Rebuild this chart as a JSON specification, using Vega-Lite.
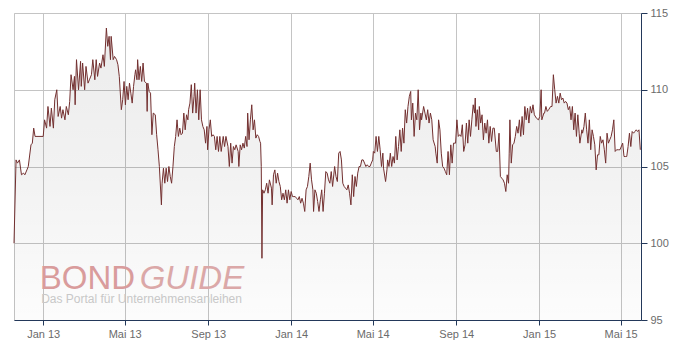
{
  "$schema": "https://vega.github.io/schema/vega-lite/v6.json",
  "width": 627,
  "height": 307,
  "autosize": {"type": "none"},
  "padding": {"left": 14, "top": 13, "right": 44, "bottom": 30},
  "background": "#ffffff",
  "config": {
    "view": {"stroke": "#c4c4c4", "strokeWidth": 1},
    "axis": {
      "title": null,
      "grid": true,
      "gridColor": "#c4c4c4",
      "gridWidth": 1,
      "domainColor": "#23385a",
      "domainWidth": 1,
      "tickColor": "#23385a",
      "labelFont": "Liberation Sans",
      "labelFontSize": 11,
      "labelColor": "#6b6b6b",
      "labelOverlap": false,
      "labelFlush": false
    }
  },
  "data": {"name": "series", "format": {"parse": {"d": "date:'%Y-%m-%d'"}}},
  "layer": [
    {
      "mark": {
        "type": "area",
        "clip": true,
        "fill": {"gradient": "linear", "x1": 0, "y1": 0, "x2": 0, "y2": 1,
          "stops": [{"offset": 0, "color": "rgba(0,0,0,0.075)"}, {"offset": 0.5, "color": "rgba(0,0,0,0.05)"}, {"offset": 1, "color": "rgba(0,0,0,0.012)"}]},
        "strokeWidth": 0
      },
      "encoding": {
        "x": {"field": "d", "type": "temporal",
          "scale": {"domain": [{"year": 2012, "month": 11, "date": 19}, {"year": 2015, "month": 5, "date": 31}]}},
        "y": {"field": "v", "type": "quantitative", "scale": {"domain": [95, 115], "zero": false, "nice": false}},
        "y2": {"datum": 95}
      }
    },
    {
      "data": {"values": [{"label": "BOND"}]},
      "mark": {"type": "text", "align": "left", "baseline": "alphabetic", "font": "Liberation Sans", "fontSize": 33, "color": "#d99c9c"},
      "encoding": {
        "x": {"datum": {"year": 2012, "month": 12, "date": 27}, "type": "temporal"},
        "y": {"datum": 97.0, "type": "quantitative"},
        "text": {"field": "label"}
      }
    },
    {
      "data": {"values": [{"label": "GUIDE"}]},
      "mark": {"type": "text", "align": "left", "baseline": "alphabetic", "font": "Liberation Sans", "fontStyle": "italic", "fontSize": 33, "color": "#dba8a8"},
      "encoding": {
        "x": {"datum": {"year": 2013, "month": 5, "date": 23}, "type": "temporal"},
        "y": {"datum": 97.0, "type": "quantitative"},
        "text": {"field": "label"}
      }
    },
    {
      "data": {"values": [{"label": "Das Portal für Unternehmensanleihen"}]},
      "mark": {"type": "text", "align": "left", "baseline": "alphabetic", "font": "Liberation Sans", "fontSize": 12, "color": "#c8c8c8"},
      "encoding": {
        "x": {"datum": {"year": 2012, "month": 12, "date": 29}, "type": "temporal"},
        "y": {"datum": 96.12, "type": "quantitative"},
        "text": {"field": "label"}
      }
    },
    {
      "mark": {"type": "line", "color": "#733030", "strokeWidth": 1},
      "encoding": {
        "x": {"field": "d", "type": "temporal",
          "scale": {"domain": [{"year": 2012, "month": 11, "date": 19}, {"year": 2015, "month": 5, "date": 31}]},
          "axis": {
            "orient": "bottom",
            "values": [
              {"year": 2013, "month": 1, "date": 1}, {"year": 2013, "month": 5, "date": 1}, {"year": 2013, "month": 9, "date": 1},
              {"year": 2014, "month": 1, "date": 1}, {"year": 2014, "month": 5, "date": 1}, {"year": 2014, "month": 9, "date": 1},
              {"year": 2015, "month": 1, "date": 1}, {"year": 2015, "month": 5, "date": 1}
            ],
            "labelExpr": "replace(timeFormat(datum.value, '%b %y'), 'May', 'Mai')",
            "tickSize": 5,
            "labelPadding": 3
          }
        },
        "y": {"field": "v", "type": "quantitative",
          "scale": {"domain": [95, 115], "zero": false, "nice": false},
          "axis": {"orient": "right", "values": [95, 100, 105, 110, 115], "tickSize": 6, "labelPadding": 3}
        }
      }
    }
  ],
  "datasets": {
    "series": [
      {"d":"2012-11-19","v":100.0},{"d":"2012-11-22","v":105.43},{"d":"2012-11-24","v":105.22},{"d":"2012-11-27","v":105.43},
      {"d":"2012-11-30","v":104.46},{"d":"2012-12-03","v":104.57},{"d":"2012-12-05","v":104.46},{"d":"2012-12-08","v":104.78},
      {"d":"2012-12-10","v":105.0},{"d":"2012-12-14","v":106.41},{"d":"2012-12-16","v":106.52},{"d":"2012-12-18","v":107.5},
      {"d":"2012-12-20","v":106.96},{"d":"2013-01-01","v":106.96},{"d":"2013-01-03","v":108.04},{"d":"2013-01-06","v":107.5},
      {"d":"2013-01-08","v":108.91},{"d":"2013-01-11","v":107.61},{"d":"2013-01-13","v":108.8},{"d":"2013-01-16","v":107.5},
      {"d":"2013-01-18","v":109.35},{"d":"2013-01-21","v":110.0},{"d":"2013-01-23","v":108.26},{"d":"2013-01-26","v":108.91},
      {"d":"2013-01-28","v":108.15},{"d":"2013-01-30","v":108.7},{"d":"2013-02-02","v":108.04},{"d":"2013-02-04","v":108.91},
      {"d":"2013-02-07","v":108.37},{"d":"2013-02-09","v":109.24},{"d":"2013-02-11","v":110.98},{"d":"2013-02-14","v":110.0},
      {"d":"2013-02-16","v":110.87},{"d":"2013-02-17","v":109.02},{"d":"2013-02-19","v":111.96},{"d":"2013-02-22","v":110.0},
      {"d":"2013-02-25","v":111.85},{"d":"2013-02-26","v":110.22},{"d":"2013-02-28","v":111.74},{"d":"2013-03-03","v":110.0},
      {"d":"2013-03-05","v":111.52},{"d":"2013-03-08","v":110.43},{"d":"2013-03-10","v":110.65},{"d":"2013-03-13","v":110.98},
      {"d":"2013-03-15","v":111.96},{"d":"2013-03-18","v":110.65},{"d":"2013-03-20","v":111.96},{"d":"2013-03-22","v":110.87},
      {"d":"2013-03-25","v":111.74},{"d":"2013-03-27","v":111.41},{"d":"2013-03-30","v":112.28},{"d":"2013-04-01","v":111.52},
      {"d":"2013-04-04","v":114.02},{"d":"2013-04-06","v":112.83},{"d":"2013-04-08","v":113.48},{"d":"2013-04-10","v":111.96},
      {"d":"2013-04-11","v":113.48},{"d":"2013-04-14","v":111.96},{"d":"2013-04-16","v":112.17},{"d":"2013-04-19","v":111.96},
      {"d":"2013-04-21","v":111.63},{"d":"2013-04-23","v":110.87},{"d":"2013-04-26","v":108.7},{"d":"2013-04-28","v":109.35},
      {"d":"2013-04-30","v":110.54},{"d":"2013-05-02","v":109.02},{"d":"2013-05-04","v":110.22},{"d":"2013-05-06","v":109.35},
      {"d":"2013-05-08","v":110.43},{"d":"2013-05-10","v":109.78},{"d":"2013-05-12","v":109.13},{"d":"2013-05-14","v":110.22},
      {"d":"2013-05-16","v":110.98},{"d":"2013-05-17","v":111.3},{"d":"2013-05-19","v":110.65},{"d":"2013-05-20","v":111.96},
      {"d":"2013-05-22","v":110.65},{"d":"2013-05-24","v":111.52},{"d":"2013-05-26","v":110.54},{"d":"2013-05-28","v":111.74},
      {"d":"2013-05-30","v":110.54},{"d":"2013-06-02","v":110.43},{"d":"2013-06-03","v":108.59},{"d":"2013-06-04","v":110.43},
      {"d":"2013-06-06","v":109.89},{"d":"2013-06-08","v":109.78},{"d":"2013-06-10","v":107.07},{"d":"2013-06-12","v":108.48},
      {"d":"2013-06-15","v":108.37},{"d":"2013-06-17","v":107.07},{"d":"2013-06-19","v":106.09},{"d":"2013-06-21","v":105.0},
      {"d":"2013-06-24","v":102.5},{"d":"2013-06-25","v":103.91},{"d":"2013-06-27","v":104.89},{"d":"2013-06-29","v":103.91},
      {"d":"2013-07-01","v":104.89},{"d":"2013-07-03","v":104.02},{"d":"2013-07-05","v":105.0},{"d":"2013-07-07","v":104.35},
      {"d":"2013-07-09","v":103.91},{"d":"2013-07-11","v":105.0},{"d":"2013-07-13","v":106.3},{"d":"2013-07-15","v":106.96},
      {"d":"2013-07-17","v":108.04},{"d":"2013-07-19","v":106.96},{"d":"2013-07-21","v":107.5},{"d":"2013-07-23","v":107.07},
      {"d":"2013-07-25","v":107.17},{"d":"2013-07-27","v":108.48},{"d":"2013-07-29","v":107.39},{"d":"2013-07-31","v":108.37},
      {"d":"2013-08-02","v":108.04},{"d":"2013-08-03","v":108.7},{"d":"2013-08-05","v":109.13},{"d":"2013-08-07","v":110.33},
      {"d":"2013-08-09","v":108.48},{"d":"2013-08-11","v":109.57},{"d":"2013-08-12","v":110.43},{"d":"2013-08-14","v":108.48},
      {"d":"2013-08-16","v":110.0},{"d":"2013-08-18","v":108.04},{"d":"2013-08-20","v":110.0},{"d":"2013-08-22","v":108.04},
      {"d":"2013-08-24","v":107.61},{"d":"2013-08-26","v":107.39},{"d":"2013-08-28","v":106.52},{"d":"2013-08-30","v":107.61},
      {"d":"2013-08-31","v":106.09},{"d":"2013-09-02","v":107.39},{"d":"2013-09-04","v":108.04},{"d":"2013-09-06","v":106.96},
      {"d":"2013-09-08","v":107.07},{"d":"2013-09-10","v":106.96},{"d":"2013-09-12","v":106.09},{"d":"2013-09-14","v":106.96},
      {"d":"2013-09-16","v":105.98},{"d":"2013-09-18","v":106.96},{"d":"2013-09-20","v":105.98},{"d":"2013-09-23","v":106.96},
      {"d":"2013-09-25","v":106.3},{"d":"2013-09-27","v":106.96},{"d":"2013-09-30","v":106.3},{"d":"2013-10-02","v":105.0},
      {"d":"2013-10-04","v":106.52},{"d":"2013-10-06","v":105.22},{"d":"2013-10-08","v":106.3},{"d":"2013-10-10","v":106.09},
      {"d":"2013-10-12","v":106.41},{"d":"2013-10-15","v":105.98},{"d":"2013-10-16","v":105.0},{"d":"2013-10-18","v":106.41},
      {"d":"2013-10-20","v":106.09},{"d":"2013-10-22","v":106.52},{"d":"2013-10-24","v":106.2},{"d":"2013-10-26","v":106.96},
      {"d":"2013-10-28","v":106.3},{"d":"2013-10-29","v":108.48},{"d":"2013-10-31","v":106.74},{"d":"2013-11-02","v":108.04},
      {"d":"2013-11-04","v":109.02},{"d":"2013-11-06","v":107.39},{"d":"2013-11-08","v":108.04},{"d":"2013-11-10","v":106.85},
      {"d":"2013-11-12","v":107.07},{"d":"2013-11-14","v":106.96},{"d":"2013-11-16","v":106.63},{"d":"2013-11-17","v":106.52},
      {"d":"2013-11-18","v":105.0},{"d":"2013-11-19","v":99.02},{"d":"2013-11-20","v":103.48},{"d":"2013-11-22","v":103.26},
      {"d":"2013-11-24","v":103.48},{"d":"2013-11-26","v":103.91},{"d":"2013-11-28","v":103.26},{"d":"2013-11-30","v":104.13},
      {"d":"2013-12-03","v":103.59},{"d":"2013-12-04","v":102.5},{"d":"2013-12-06","v":104.46},{"d":"2013-12-08","v":104.78},
      {"d":"2013-12-10","v":103.91},{"d":"2013-12-12","v":104.57},{"d":"2013-12-14","v":104.02},{"d":"2013-12-16","v":103.7},
      {"d":"2013-12-18","v":102.83},{"d":"2013-12-20","v":103.26},{"d":"2013-12-22","v":102.83},{"d":"2013-12-24","v":103.48},
      {"d":"2013-12-26","v":102.61},{"d":"2013-12-28","v":103.48},{"d":"2013-12-30","v":102.83},{"d":"2014-01-01","v":103.37},
      {"d":"2014-01-03","v":103.04},{"d":"2014-01-05","v":103.04},{"d":"2014-01-07","v":103.04},{"d":"2014-01-09","v":102.93},
      {"d":"2014-01-11","v":102.83},{"d":"2014-01-13","v":103.04},{"d":"2014-01-15","v":102.61},{"d":"2014-01-17","v":102.93},
      {"d":"2014-01-19","v":102.61},{"d":"2014-01-21","v":102.07},{"d":"2014-01-23","v":103.48},{"d":"2014-01-25","v":103.7},
      {"d":"2014-01-27","v":104.35},{"d":"2014-01-29","v":105.22},{"d":"2014-01-31","v":104.13},{"d":"2014-02-02","v":103.48},
      {"d":"2014-02-03","v":102.07},{"d":"2014-02-05","v":103.48},{"d":"2014-02-07","v":103.26},{"d":"2014-02-09","v":102.72},
      {"d":"2014-02-11","v":102.07},{"d":"2014-02-13","v":102.83},{"d":"2014-02-15","v":103.48},{"d":"2014-02-17","v":102.07},
      {"d":"2014-02-19","v":103.26},{"d":"2014-02-21","v":104.67},{"d":"2014-02-23","v":104.57},{"d":"2014-02-25","v":104.13},
      {"d":"2014-02-27","v":103.91},{"d":"2014-03-01","v":104.67},{"d":"2014-03-03","v":103.7},{"d":"2014-03-06","v":105.0},
      {"d":"2014-03-08","v":104.35},{"d":"2014-03-10","v":104.02},{"d":"2014-03-12","v":105.87},{"d":"2014-03-14","v":105.98},
      {"d":"2014-03-16","v":105.43},{"d":"2014-03-18","v":103.91},{"d":"2014-03-20","v":103.7},{"d":"2014-03-22","v":103.59},
      {"d":"2014-03-24","v":103.48},{"d":"2014-03-26","v":103.8},{"d":"2014-03-28","v":103.26},{"d":"2014-03-30","v":102.5},
      {"d":"2014-04-01","v":104.46},{"d":"2014-04-03","v":103.04},{"d":"2014-04-05","v":104.35},{"d":"2014-04-07","v":103.7},
      {"d":"2014-04-09","v":104.57},{"d":"2014-04-11","v":105.0},{"d":"2014-04-13","v":105.0},{"d":"2014-04-15","v":105.43},
      {"d":"2014-04-17","v":105.43},{"d":"2014-04-19","v":105.22},{"d":"2014-04-21","v":105.0},{"d":"2014-04-23","v":105.11},
      {"d":"2014-04-25","v":105.0},{"d":"2014-04-27","v":105.0},{"d":"2014-04-29","v":105.22},{"d":"2014-05-01","v":105.43},
      {"d":"2014-05-02","v":105.98},{"d":"2014-05-04","v":105.87},{"d":"2014-05-06","v":106.96},{"d":"2014-05-08","v":105.98},
      {"d":"2014-05-10","v":106.96},{"d":"2014-05-12","v":106.09},{"d":"2014-05-14","v":105.0},{"d":"2014-05-16","v":105.87},
      {"d":"2014-05-17","v":104.89},{"d":"2014-05-20","v":104.02},{"d":"2014-05-22","v":104.78},{"d":"2014-05-23","v":105.43},
      {"d":"2014-05-25","v":105.0},{"d":"2014-05-27","v":105.87},{"d":"2014-05-29","v":105.0},{"d":"2014-05-31","v":105.65},
      {"d":"2014-06-02","v":105.22},{"d":"2014-06-04","v":106.96},{"d":"2014-06-06","v":105.43},{"d":"2014-06-08","v":106.3},
      {"d":"2014-06-10","v":107.39},{"d":"2014-06-12","v":105.98},{"d":"2014-06-14","v":107.5},{"d":"2014-06-16","v":106.52},
      {"d":"2014-06-18","v":108.7},{"d":"2014-06-20","v":107.83},{"d":"2014-06-22","v":108.91},{"d":"2014-06-24","v":109.57},
      {"d":"2014-06-26","v":109.89},{"d":"2014-06-27","v":108.04},{"d":"2014-06-29","v":109.13},{"d":"2014-07-01","v":106.96},
      {"d":"2014-07-03","v":108.48},{"d":"2014-07-05","v":108.04},{"d":"2014-07-07","v":110.0},{"d":"2014-07-09","v":107.39},
      {"d":"2014-07-11","v":108.48},{"d":"2014-07-12","v":108.04},{"d":"2014-07-15","v":108.91},{"d":"2014-07-17","v":108.48},
      {"d":"2014-07-19","v":108.04},{"d":"2014-07-21","v":108.7},{"d":"2014-07-23","v":107.83},{"d":"2014-07-25","v":108.48},
      {"d":"2014-07-27","v":108.04},{"d":"2014-07-29","v":106.74},{"d":"2014-08-01","v":106.3},{"d":"2014-08-02","v":105.87},
      {"d":"2014-08-04","v":105.22},{"d":"2014-08-06","v":108.04},{"d":"2014-08-08","v":107.39},{"d":"2014-08-10","v":105.87},
      {"d":"2014-08-12","v":105.0},{"d":"2014-08-14","v":104.89},{"d":"2014-08-16","v":104.67},{"d":"2014-08-18","v":104.46},
      {"d":"2014-08-20","v":105.98},{"d":"2014-08-22","v":104.46},{"d":"2014-08-24","v":106.41},{"d":"2014-08-26","v":105.22},
      {"d":"2014-08-28","v":106.52},{"d":"2014-08-31","v":106.52},{"d":"2014-09-02","v":108.04},{"d":"2014-09-04","v":106.96},
      {"d":"2014-09-06","v":107.07},{"d":"2014-09-08","v":106.96},{"d":"2014-09-10","v":107.72},{"d":"2014-09-12","v":105.98},
      {"d":"2014-09-14","v":106.41},{"d":"2014-09-16","v":107.83},{"d":"2014-09-18","v":106.52},{"d":"2014-09-20","v":108.04},
      {"d":"2014-09-22","v":106.96},{"d":"2014-09-24","v":108.04},{"d":"2014-09-26","v":109.02},{"d":"2014-09-28","v":108.48},
      {"d":"2014-09-29","v":109.46},{"d":"2014-09-30","v":107.61},{"d":"2014-10-02","v":108.7},{"d":"2014-10-04","v":107.39},
      {"d":"2014-10-05","v":108.91},{"d":"2014-10-07","v":107.83},{"d":"2014-10-09","v":108.37},{"d":"2014-10-11","v":106.74},
      {"d":"2014-10-13","v":107.83},{"d":"2014-10-15","v":107.17},{"d":"2014-10-17","v":108.04},{"d":"2014-10-19","v":106.52},
      {"d":"2014-10-21","v":107.61},{"d":"2014-10-23","v":106.63},{"d":"2014-10-25","v":107.5},{"d":"2014-10-27","v":107.5},
      {"d":"2014-10-30","v":105.98},{"d":"2014-11-01","v":105.98},{"d":"2014-11-03","v":107.17},{"d":"2014-11-05","v":104.35},
      {"d":"2014-11-07","v":104.24},{"d":"2014-11-09","v":104.13},{"d":"2014-11-11","v":103.91},{"d":"2014-11-13","v":103.37},
      {"d":"2014-11-15","v":104.46},{"d":"2014-11-17","v":103.91},{"d":"2014-11-18","v":105.87},{"d":"2014-11-19","v":108.04},
      {"d":"2014-11-21","v":105.22},{"d":"2014-11-23","v":106.41},{"d":"2014-11-25","v":106.52},{"d":"2014-11-27","v":106.96},
      {"d":"2014-11-29","v":107.61},{"d":"2014-12-01","v":107.17},{"d":"2014-12-03","v":108.04},{"d":"2014-12-05","v":106.96},
      {"d":"2014-12-07","v":108.26},{"d":"2014-12-09","v":107.07},{"d":"2014-12-11","v":108.91},{"d":"2014-12-13","v":108.04},
      {"d":"2014-12-15","v":108.8},{"d":"2014-12-17","v":107.83},{"d":"2014-12-19","v":108.91},{"d":"2014-12-21","v":108.48},
      {"d":"2014-12-23","v":109.02},{"d":"2014-12-25","v":108.37},{"d":"2014-12-28","v":108.15},{"d":"2014-12-31","v":108.04},
      {"d":"2015-01-02","v":108.26},{"d":"2015-01-04","v":110.0},{"d":"2015-01-05","v":108.04},{"d":"2015-01-08","v":108.48},
      {"d":"2015-01-09","v":108.48},{"d":"2015-01-11","v":108.91},{"d":"2015-01-13","v":108.59},{"d":"2015-01-15","v":108.7},
      {"d":"2015-01-18","v":108.91},{"d":"2015-01-20","v":108.91},{"d":"2015-01-22","v":110.98},{"d":"2015-01-24","v":110.0},
      {"d":"2015-01-26","v":109.13},{"d":"2015-01-28","v":109.57},{"d":"2015-01-30","v":109.13},{"d":"2015-02-01","v":109.78},
      {"d":"2015-02-03","v":109.35},{"d":"2015-02-05","v":109.46},{"d":"2015-02-07","v":109.13},{"d":"2015-02-09","v":109.24},
      {"d":"2015-02-11","v":109.13},{"d":"2015-02-13","v":108.7},{"d":"2015-02-15","v":108.91},{"d":"2015-02-17","v":108.04},
      {"d":"2015-02-19","v":108.91},{"d":"2015-02-21","v":107.39},{"d":"2015-02-23","v":108.48},{"d":"2015-02-25","v":106.96},
      {"d":"2015-02-27","v":108.37},{"d":"2015-03-01","v":107.17},{"d":"2015-03-02","v":106.52},{"d":"2015-03-05","v":107.39},
      {"d":"2015-03-06","v":107.17},{"d":"2015-03-08","v":107.61},{"d":"2015-03-10","v":108.48},{"d":"2015-03-12","v":107.39},
      {"d":"2015-03-14","v":106.52},{"d":"2015-03-16","v":108.04},{"d":"2015-03-18","v":106.09},{"d":"2015-03-20","v":107.39},
      {"d":"2015-03-22","v":106.96},{"d":"2015-03-24","v":106.41},{"d":"2015-03-26","v":104.78},{"d":"2015-03-28","v":105.76},
      {"d":"2015-03-30","v":105.76},{"d":"2015-04-01","v":106.96},{"d":"2015-04-03","v":106.52},{"d":"2015-04-05","v":106.74},
      {"d":"2015-04-07","v":106.09},{"d":"2015-04-09","v":105.22},{"d":"2015-04-11","v":107.17},{"d":"2015-04-13","v":106.52},
      {"d":"2015-04-15","v":106.74},{"d":"2015-04-17","v":106.96},{"d":"2015-04-19","v":107.39},{"d":"2015-04-21","v":108.04},
      {"d":"2015-04-23","v":105.98},{"d":"2015-04-25","v":106.09},{"d":"2015-04-28","v":106.09},{"d":"2015-04-30","v":106.09},
      {"d":"2015-05-03","v":106.41},{"d":"2015-05-04","v":106.52},{"d":"2015-05-06","v":105.65},{"d":"2015-05-08","v":105.65},
      {"d":"2015-05-10","v":105.65},{"d":"2015-05-12","v":106.3},{"d":"2015-05-14","v":107.17},{"d":"2015-05-16","v":106.3},
      {"d":"2015-05-18","v":107.28},{"d":"2015-05-20","v":107.17},{"d":"2015-05-22","v":107.28},{"d":"2015-05-24","v":107.39},
      {"d":"2015-05-26","v":107.28},{"d":"2015-05-28","v":107.39},{"d":"2015-05-30","v":106.09}
    ]
  }
}
